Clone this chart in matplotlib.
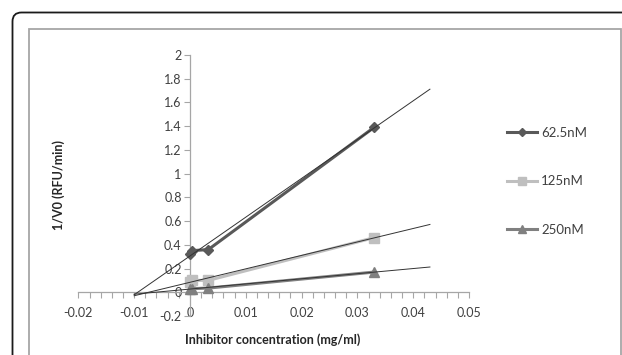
import matplotlib
matplotlib.use('Agg')
import matplotlib.pyplot as plt
import numpy as np
from matplotlib.patches import FancyBboxPatch, Rectangle
from matplotlib.ticker import MultipleLocator, FuncFormatter

plt.rcParams['font.family'] = ['Lato', 'DejaVu Sans']

# inhibitor concentration (mg/ml)
conc = np.array([0, 0.0003, 0.0033, 0.033])
# 1/V0 for each substrate concentration
inv_v_625 = np.array([0.32, 0.35, 0.36, 1.39])
inv_v_125 = np.array([0.09, 0.10, 0.10, 0.46])
inv_v_250 = np.array([0.03, 0.03, 0.035, 0.17])
series_names = ['62.5nM', '125nM', '250nM']

# trendline forecast range (backward / forward)
trend_x = np.array([-0.01, 0.043])

fmt = FuncFormatter(lambda v, p: '%g' % round(v, 4))

fig = plt.figure(figsize=(6.22, 3.55), dpi=100)

# outer rounded border + inner chart-area frame (pixel coords)
outer = FancyBboxPatch((12.5, -30), 700, 342.5 + 30, boxstyle='round,pad=0,rounding_size=9',
                       transform=None, fill=False, ec='#1a1a1a', lw=1.3)
inner = Rectangle((28.5, -30), 592, 326 + 30, transform=None, fill=False, ec='#a6a6a6', lw=1.3)
fig.add_artist(outer)
fig.add_artist(inner)

ax = fig.add_axes([0.126, 0.110, 0.628, 0.735])

styles = [('#595959', 'D', 5), ('#bfbfbf', 's', 6.5), ('#808080', '^', 6.5)]
for yv, name, (col, mk, ms) in zip([inv_v_625, inv_v_125, inv_v_250], series_names, styles):
    ax.plot(conc, yv, color=col, lw=2.2, marker=mk, ms=ms, mec=col, mfc=col, label=name, zorder=3)

# linear trendlines
for yv in [inv_v_625, inv_v_125, inv_v_250]:
    k, b = np.polyfit(conc, yv, 1)
    ax.plot(trend_x, k * trend_x + b, color='#333333', lw=0.7, zorder=4)

ax.set_xlim(-0.02, 0.05)
ax.set_ylim(-0.2, 2)

for s in ['top', 'right']:
    ax.spines[s].set_visible(False)
ax.spines['left'].set_position(('data', 0))
ax.spines['bottom'].set_position(('data', 0))
for s in ['left', 'bottom']:
    ax.spines[s].set_color('#a6a6a6')
    ax.spines[s].set_linewidth(0.9)

ax.yaxis.set_major_locator(MultipleLocator(0.2))
ax.yaxis.set_major_formatter(fmt)
ax.xaxis.set_major_locator(MultipleLocator(0.01))
ax.xaxis.set_minor_locator(MultipleLocator(0.002))
ax.tick_params(axis='both', which='both', direction='out', length=4, width=0.8, color='#a6a6a6')
ax.tick_params(axis='x', labelbottom=False)
ax.tick_params(axis='y', labelsize=9, labelcolor='#404040', pad=2)

# x tick labels sit at the bottom of the plot area
sec = ax.secondary_xaxis(0.035)
sec.spines['bottom'].set_visible(False)
sec.xaxis.set_major_locator(MultipleLocator(0.01))
sec.xaxis.set_major_formatter(fmt)
sec.tick_params(length=0, pad=0, labelsize=9, labelcolor='#404040')

fig.text(273 / 622, 1 - 340 / 355, 'Inhibitor concentration (mg/ml)', ha='center', va='center',
         fontsize=9, fontweight='bold', color='#262626')
fig.text(59 / 622, 1 - 185 / 355, '1/V0 (RFU/min)', ha='center', va='center', rotation=90,
         fontsize=9, fontweight='bold', color='#262626')

ax.legend(loc='upper left', bbox_to_anchor=(507 / 622, 1 - 127 / 355), bbox_transform=fig.transFigure,
          frameon=False, fontsize=9.5, handlelength=2.3, handletextpad=0.3, labelspacing=2.75,
          borderpad=0, borderaxespad=0, markerscale=0.8, labelcolor='#404040')

fig.savefig('out.png', dpi=100)
